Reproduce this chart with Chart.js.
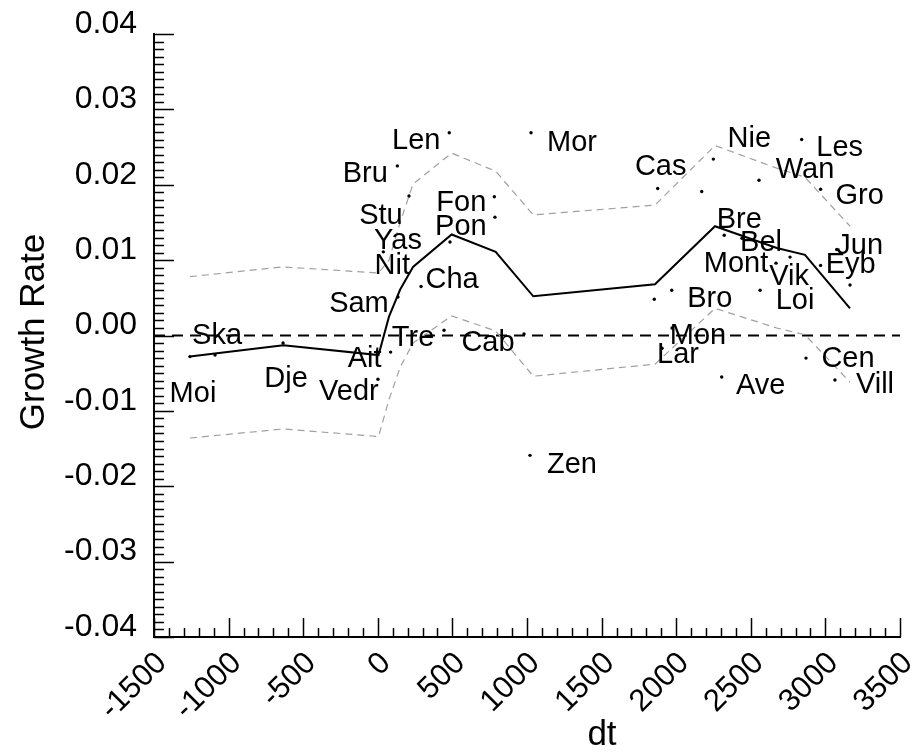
<!DOCTYPE html>
<html>
<head>
<meta charset="utf-8">
<style>
  html, body { margin: 0; padding: 0; background: #fff; }
</style>
<script src="https://cdn.jsdelivr.net/npm/chart.js@4.4.1/dist/chart.umd.min.js"></script>
</head>
<body>
<canvas id="chart" width="920" height="753"></canvas>
<script>
"use strict";

// sites (empty name = unlabelled dot)
const siteNames = [
  "Len", "Mor", "Bru", "Fon", "Pon", "Stu", "Yas", "Nit", "Sam", "Cha",
  "Tre", "Cab", "Ait", "Vedr", "Dje", "Ska", "Moi", "Zen", "Cas", "",
  "Nie", "Les", "Wan", "Gro", "Bre", "Bel", "Mont", "Vik", "Loi", "Jun",
  "Eyb", "", "Bro", "", "Mon", "Lar", "Ave", "Cen", "Vill"
];
const siteDt = [
  479, 1027, 131, 781, 785, 209, 484, 37, 135, 290,
  444, 980, 86, 1, -635, -1091, -1259, 1020, 1876, 2171,
  2249, 2841, 2555, 2968, 2322, 2441, 2669, 2763, 2562, 3076,
  2968, 3165, 1970, 1853, 1972, 1905, 2305, 2870, 3064
];
const siteRate = [
  0.0269, 0.0269, 0.0225, 0.0184, 0.0157, 0.0185, 0.0124, 0.0111, 0.0051, 0.0065,
  0.0007, 0.0002, -0.0022, -0.0058, -0.0010, -0.0026, -0.0028, -0.0159, 0.0195, 0.0191,
  0.0234, 0.0260, 0.0206, 0.0194, 0.0133, 0.0129, 0.0096, 0.0104, 0.0060, 0.0114,
  0.0093, 0.0067, 0.0060, 0.0048, 0.0010, -0.0017, -0.0055, -0.0030, -0.0059
];

// smoothed fit and its band
const fitDt = [-1259, -633, 5, 75, 150, 236, 495, 790, 1042, 1858, 2260, 2674, 2863, 3165];
const fitRate = [-0.0028, -0.0013, -0.0026, 0.0025, 0.0061, 0.0091, 0.0134, 0.0111, 0.0052, 0.0068, 0.0145, 0.0116, 0.0107, 0.0036];
const upperRate = [0.0078, 0.0091, 0.0083, 0.0100, 0.0150, 0.0201, 0.0242, 0.0218, 0.0160, 0.0173, 0.0252, 0.0222, 0.0210, 0.0145];
const lowerRate = [-0.0136, -0.0124, -0.0134, -0.0085, -0.0042, -0.0010, 0.0026, 0.0006, -0.0054, -0.0038, 0.0036, 0.0010, 0.0001, -0.0062];

const xRange = [-1500, 3500];
const yRange = [-0.04, 0.04];

// where each name sits relative to its dot (px)
const labelNudge = [
  [-33, 6], [41, 8], [-32, 6], [-33, 4], [-34, 8], [-28, 18], [-52, -3], [9, 12], [-39, 5], [31, -9],
  [-31, 6], [-36, 7], [-26, 5], [-29, 11], [3, 34], [2, -21], [3, 35], [42, 8], [3, -24], [0, 0],
  [36, -22], [38, 6], [46, -12], [39, 5], [15, -17], [19, 3], [-40, -1], [-1, 18], [35, 9], [23, -6],
  [30, -2], [0, 0], [38, 7], [0, 0], [26, 6], [16, 5], [39, 7], [42, -1], [40, 3]
];

const FONT = "'Liberation Sans', Arial, sans-serif";
const toPoints = (xs, ys) => xs.map((x, i) => ({ x, y: ys[i] }));

const siteLabels = {
  id: "siteLabels",
  afterDatasetsDraw(chart) {
    const ctx = chart.ctx;
    const meta = chart.getDatasetMeta(0);
    ctx.save();
    ctx.fillStyle = "#000";
    ctx.font = "29px " + FONT;
    ctx.textAlign = "center";
    ctx.textBaseline = "alphabetic";
    meta.data.forEach((pt, i) => {
      if (!siteNames[i]) return;
      const [dx, dy] = labelNudge[i];
      ctx.fillText(siteNames[i], pt.x + dx, pt.y + dy + 10);
    });
    ctx.restore();
  }
};

// inward major/minor ticks plus the two axis titles
const axisDecor = {
  id: "axisDecor",
  afterDraw(chart) {
    const { ctx, chartArea, scales } = chart;
    const xs = scales.x, ys = scales.y;
    ctx.save();
    ctx.strokeStyle = "#000";
    ctx.lineWidth = 1.5;
    ctx.beginPath();
    for (let v = xRange[0]; v <= xRange[1]; v += 100) {
      const px = Math.round(xs.getPixelForValue(v)) + 0.5;
      const len = v % 500 === 0 ? 19 : 9;
      ctx.moveTo(px, chartArea.bottom);
      ctx.lineTo(px, chartArea.bottom - len);
    }
    for (let i = -40; i <= 40; i++) {
      const py = Math.round(ys.getPixelForValue(i / 1000)) + 0.5;
      const len = i % 10 === 0 ? 20 : 10;
      ctx.moveTo(chartArea.left, py);
      ctx.lineTo(chartArea.left + len, py);
    }
    ctx.stroke();

    ctx.fillStyle = "#000";
    ctx.font = "35px " + FONT;
    ctx.textAlign = "center";
    ctx.textBaseline = "alphabetic";
    ctx.fillText("dt", 602, 745);
    ctx.translate(44, 332);
    ctx.rotate(-Math.PI / 2);
    ctx.fillText("Growth Rate", 0, 0);
    ctx.restore();
  }
};

new Chart(document.getElementById("chart"), {
  type: "scatter",
  data: {
    datasets: [
      {
        label: "Sites",
        data: toPoints(siteDt, siteRate),
        pointRadius: 1.7,
        pointBackgroundColor: "#000",
        pointBorderWidth: 0,
        showLine: false
      },
      {
        label: "Fit",
        data: toPoints(fitDt, fitRate),
        showLine: true,
        borderColor: "#000",
        borderWidth: 2,
        pointRadius: 0
      },
      {
        label: "Upper",
        data: toPoints(fitDt, upperRate),
        showLine: true,
        borderColor: "#a0a0a0",
        borderWidth: 1.2,
        borderDash: [7, 5],
        pointRadius: 0
      },
      {
        label: "Lower",
        data: toPoints(fitDt, lowerRate),
        showLine: true,
        borderColor: "#a0a0a0",
        borderWidth: 1.2,
        borderDash: [7, 5],
        pointRadius: 0
      },
      {
        label: "Zero",
        data: toPoints(xRange, [0, 0]),
        showLine: true,
        borderColor: "#000",
        borderWidth: 2,
        borderDash: [11, 7],
        pointRadius: 0
      }
    ]
  },
  options: {
    responsive: false,
    animation: false,
    devicePixelRatio: 1,
    layout: { padding: { top: 34, right: 20 } },
    plugins: {
      legend: { display: false },
      tooltip: { enabled: false }
    },
    scales: {
      x: {
        type: "linear",
        min: xRange[0],
        max: xRange[1],
        afterFit: (s) => {
          s.height = 116;
          s.paddingLeft = 0;
          s.paddingRight = 0;
        },
        grid: { display: false, drawTicks: false },
        border: { display: true, color: "#000", width: 2 },
        ticks: {
          stepSize: 500,
          minRotation: 45,
          maxRotation: 45,
          padding: 8,
          labelOffset: 8,
          color: "#000",
          font: { family: FONT, size: 31 },
          callback: (v) => String(v)
        }
      },
      y: {
        type: "linear",
        min: yRange[0],
        max: yRange[1],
        afterFit: (s) => {
          s.width = 154;
          s.paddingTop = 0;
          s.paddingBottom = 0;
        },
        grid: { display: false, drawTicks: false },
        border: { display: true, color: "#000", width: 2 },
        ticks: {
          stepSize: 0.01,
          padding: 17,
          labelOffset: -10,
          color: "#000",
          font: { family: FONT, size: 32 },
          callback: (v) => (Math.abs(v) < 1e-9 ? "0.00" : v.toFixed(2))
        }
      }
    }
  },
  plugins: [siteLabels, axisDecor]
});
</script>
</body>
</html>
